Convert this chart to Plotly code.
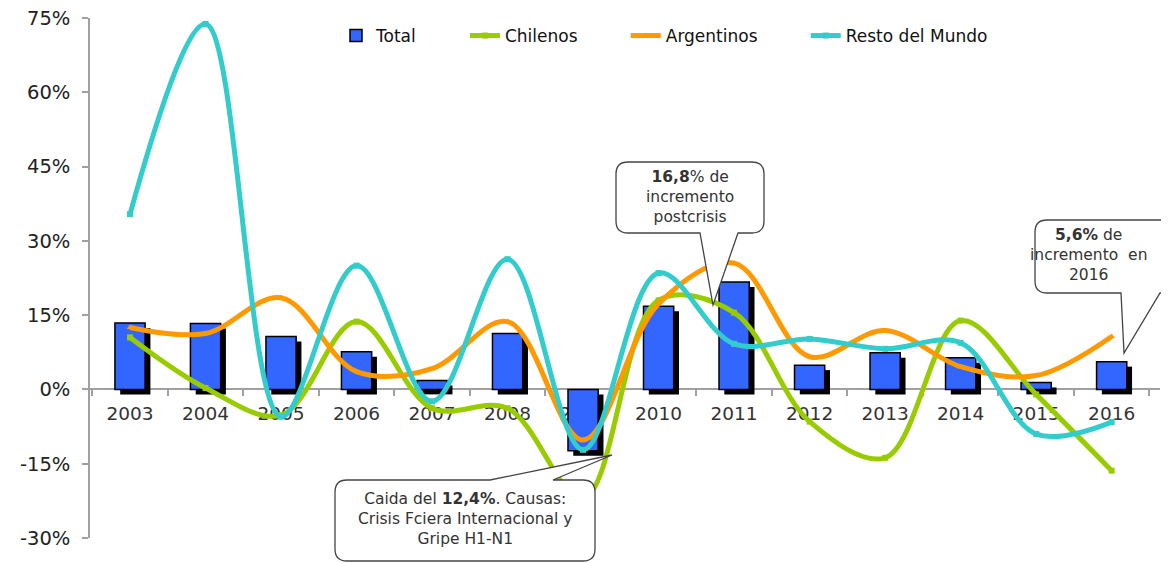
import plotly.graph_objects as go

years = [2003, 2004, 2005, 2006, 2007, 2008, 2009, 2010, 2011, 2012, 2013, 2014, 2015, 2016]
total = [13.4, 13.3, 10.7, 7.6, 1.8, 11.3, -12.4, 16.8, 21.7, 4.9, 7.4, 6.4, 1.4, 5.6]
chilenos = [10.5, 0.3, -5.2, 13.7, -3.8, -3.8, -22.0, 18.0, 15.5, -6.5, -13.8, 13.9, -1.0, -16.4]
argentinos = [12.5, 11.3, 18.5, 3.6, 4.2, 13.7, -10.2, 17.3, 25.5, 6.6, 11.9, 4.6, 2.8, 10.7]
resto = [35.4, 73.8, -5.5, 25.0, -2.4, 26.3, -12.2, 23.5, 9.2, 10.2, 8.2, 9.4, -9.0, -6.6]

y_ticks = [-30, -15, 0, 15, 30, 45, 60, 75]
series_names = ["Total", "Chilenos", "Argentinos", "Resto del Mundo"]

BLUE = "#3366FF"
GREEN = "#99CC00"
ORANGE = "#FF9900"
CYAN = "#33CCCC"
AXIS = "#a0a0a0"
FONT = "DejaVu Sans, Verdana, sans-serif"
PAD = "&nbsp;" * 8

xs = list(range(len(years)))

fig = go.Figure()

# bar shadow (3D-like effect)
fig.add_trace(go.Bar(
    x=xs, y=total, base=[-1.0] * len(total), width=0.4, offset=-0.13,
    marker=dict(color="black", line=dict(width=0)),
    showlegend=False, hoverinfo="skip",
))
fig.add_trace(go.Bar(
    x=xs, y=total, width=0.4, offset=-0.2, name=series_names[0] + PAD,
    marker=dict(color=BLUE, line=dict(color="black", width=1.5)),
))
for vals, name, col, sym in [
    (chilenos, series_names[1] + PAD, GREEN, "square"),
    (argentinos, series_names[2] + PAD, ORANGE, "triangle-up"),
    (resto, series_names[3], CYAN, "square"),
]:
    fig.add_trace(go.Scatter(
        x=xs, y=vals, name=name, mode="lines+markers",
        line=dict(color=col, width=5, shape="spline", smoothing=1.0),
        marker=dict(color=col, size=6, symbol=sym),
    ))

# page pixel geometry of the plot area (page has an 8px body offset)
OFF = 8
W, H = 1169, 563
L, R, T, B = 90, 1160, 18, 538

def P(xp, yp):
    return f"{(xp - L) / (R - L):.5f},{(B - yp) / (B - T):.5f}"
def px(xp):
    return (xp - L) / (R - L)
def py(yp):
    return (B - yp) / (B - T)

def bubble(x0, y0, x1, y1, r, side, tb0, tb1, tip):
    parts = [f"M {P(x0 + r, y0)}"]
    if side == "top":
        parts += [f"L {P(tb0, y0)}", f"L {P(*tip)}", f"L {P(tb1, y0)}"]
    parts += [f"L {P(x1 - r, y0)}", f"Q {P(x1, y0)} {P(x1, y0 + r)}",
              f"L {P(x1, y1 - r)}", f"Q {P(x1, y1)} {P(x1 - r, y1)}"]
    if side == "bottom":
        parts += [f"L {P(tb1, y1)}", f"L {P(*tip)}", f"L {P(tb0, y1)}"]
    parts += [f"L {P(x0 + r, y1)}", f"Q {P(x0, y1)} {P(x0, y1 - r)}",
              f"L {P(x0, y0 + r)}", f"Q {P(x0, y0)} {P(x0 + r, y0)}", "Z"]
    return " ".join(parts)

shapes = [
    dict(type="path", xref="paper", yref="paper", layer="above",
         path=bubble(335, 480, 595, 561, 12, "top", 490, 553, (612, 455)),
         fillcolor="white", line=dict(color="#444", width=1.3)),
    dict(type="path", xref="paper", yref="paper", layer="above",
         path=bubble(616, 162, 764, 233, 12, "bottom", 700, 738, (713, 305)),
         fillcolor="white", line=dict(color="#444", width=1.3)),
    dict(type="path", xref="paper", yref="paper", layer="above",
         path=bubble(1035, 220, 1200, 293, 12, "bottom", 1121, 1160, (1124, 353)),
         fillcolor="white", line=dict(color="#444", width=1.3)),
]

cfont = dict(family=FONT, size=15.5, color="#333")
annotations = [
    dict(xref="paper", yref="paper", x=px(465), y=py(519), showarrow=False,
         xanchor="center", yanchor="middle",
         text="Caida del <b>12,4%</b>. Causas:<br>Crisis Fciera Internacional y<br>Gripe H1-N1",
         font=cfont, align="center"),
    dict(xref="paper", yref="paper", x=px(690), y=py(197), showarrow=False,
         xanchor="center", yanchor="middle",
         text="<b>16,8</b>% de<br>incremento<br>postcrisis",
         font=cfont, align="center"),
    dict(xref="paper", yref="paper", x=px(1088), y=py(255), showarrow=False,
         xanchor="center", yanchor="middle",
         text="<b>5,6%</b> de<br>incremento  en<br>2016",
         font=cfont, align="center"),
]

fig.update_layout(
    width=W, height=H,
    margin=dict(l=L - OFF, r=W - (R - OFF), t=T - OFF, b=H - (B - OFF), autoexpand=False),
    paper_bgcolor="white", plot_bgcolor="white",
    barmode="overlay",
    font=dict(family=FONT, color="#222"),
    showlegend=True,
    legend=dict(orientation="h", x=px(336), xanchor="left", y=py(36), yanchor="middle",
                font=dict(family=FONT, size=17, color="#111"),
                bgcolor="rgba(0,0,0,0)", traceorder="normal"),
    xaxis=dict(
        range=[-0.53, 13.64], tickmode="array", tickvals=xs,
        ticktext=[str(y) for y in years],
        anchor="free", position=30 / 105,
        showline=True, linecolor=AXIS, linewidth=1.5,
        ticks="", showgrid=False, zeroline=False,
        tickfont=dict(family=FONT, size=18.5, color="#333"),
        ticklabelstandoff=8, layer="below traces",
        minor=dict(ticks="outside", ticklen=6, tickcolor=AXIS, tickwidth=1.5,
                   tickmode="linear", tick0=0.5, dtick=1, showgrid=False),
    ),
    yaxis=dict(
        range=[-30, 75], tickmode="array", tickvals=y_ticks,
        ticktext=[f"{v}%" for v in y_ticks],
        showline=True, linecolor=AXIS, linewidth=1.5,
        ticks="outside", ticklen=6, tickcolor=AXIS, tickwidth=1.5,
        showgrid=False, zeroline=False, ticklabelstandoff=8,
        ticklabeloverflow="allow",
        tickfont=dict(family=FONT, size=19.5, color="#222"),
    ),
    shapes=shapes,
    annotations=annotations,
)

fig.write_html("out.html")
